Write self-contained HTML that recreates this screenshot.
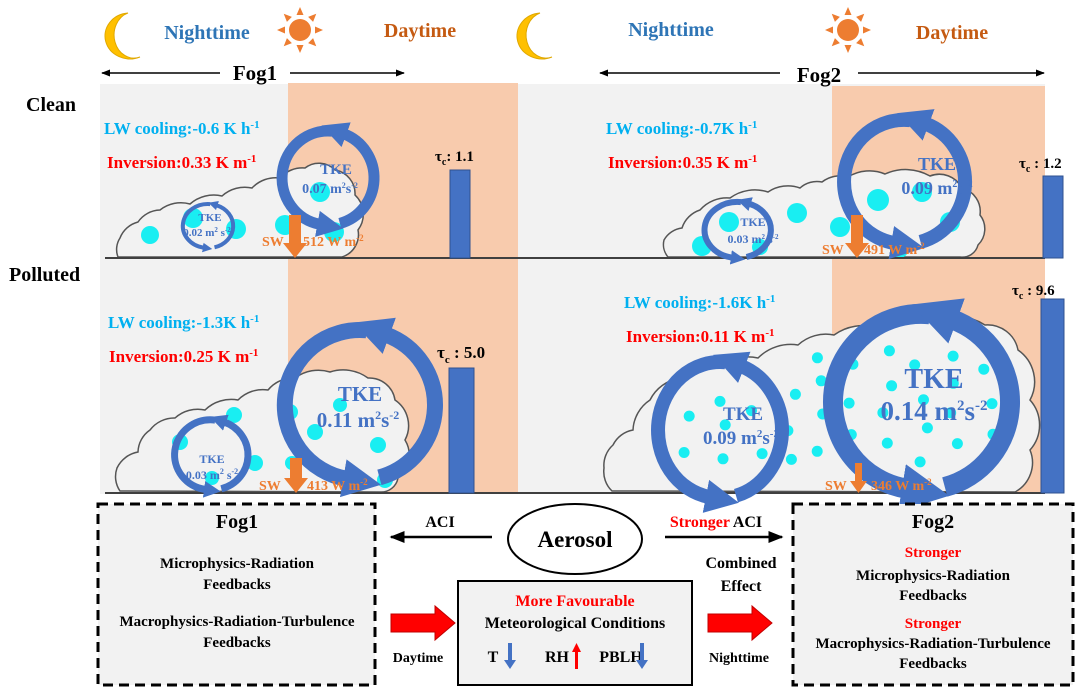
<!DOCTYPE html>
<html><head><meta charset="utf-8"><style>
html,body{margin:0;padding:0;background:#fff;width:1080px;height:694px;overflow:hidden}
svg{display:block}
text{font-family:"Liberation Serif",serif;font-weight:bold}
</style></head><body>
<svg id="s" width="1080" height="694" viewBox="0 0 1080 694" xmlns="http://www.w3.org/2000/svg">
<defs>
<marker id="ah" viewBox="0 0 10 10" markerWidth="2.4" markerHeight="3" refX="1" refY="5" orient="auto"><path d="M0,0 L10,5 L0,10 z" fill="#4472c4"/></marker>
<marker id="bk" viewBox="0 0 10 10" markerWidth="6" markerHeight="6" refX="9" refY="5" orient="auto"><path d="M0,1 L10,5 L0,9 z" fill="#000"/></marker>
</defs>
<rect x="100" y="84" width="945" height="410" fill="#f2f2f2"/>
<rect x="288" y="83" width="230" height="411" fill="#f8cbad"/>
<rect x="832" y="86" width="213" height="408" fill="#f8cbad"/>
<g id="clouds"></g>
<g id="dots"></g>
<line x1="105" y1="258" x2="1045" y2="258" stroke="#404040" stroke-width="2"/>
<line x1="105" y1="493" x2="1045" y2="493" stroke="#404040" stroke-width="2"/>
<rect x="450" y="170" width="20" height="88" fill="#4472c4" stroke="#2f528f"/>
<rect x="449" y="368" width="25" height="125" fill="#4472c4" stroke="#2f528f"/>
<rect x="1043" y="176" width="20" height="82" fill="#4472c4" stroke="#2f528f"/>
<rect x="1041" y="299" width="23" height="194" fill="#4472c4" stroke="#2f528f"/>
<g id="arrows"></g>
<g fill="#ed7d31">
<path d="M289,215 h12 v28 h6 l-12,15 l-12,-15 h6z"/>
<path d="M851,215 h12 v28 h6 l-12,15 l-12,-15 h6z"/>
<path d="M290,458 h12 v20 h6 l-12,15 l-12,-15 h6z"/>
<path d="M855,463 h7 v18 h5 l-8.5,12 l-8.5,-12 h5z"/>
</g>
<path d="M128,13 A25,23 0 1 0 140,57 A19,22 0 0 1 128,13z" fill="#ffc000" stroke="#e0a800"/>
<path d="M540,13 A25,23 0 1 0 552,57 A19,22 0 0 1 540,13z" fill="#ffc000" stroke="#e0a800"/>
<g id="suns"></g>
<g font-size="20" text-anchor="middle">
<text x="207" y="39" fill="#2e75b6">Nighttime</text>
<text x="420" y="37" fill="#c55a11">Daytime</text>
<text x="671" y="36" fill="#2e75b6">Nighttime</text>
<text x="952" y="39" fill="#c55a11">Daytime</text>
</g>
<line x1="102" y1="73" x2="220" y2="73" stroke="#000" stroke-width="1.5" marker-end="url(#bk)" transform="rotate(180 161 73)"/>
<line x1="290" y1="73" x2="404" y2="73" stroke="#000" stroke-width="1.5" marker-end="url(#bk)"/>
<text x="255" y="80" font-size="21" text-anchor="middle">Fog1</text>
<line x1="600" y1="73" x2="780" y2="73" stroke="#000" stroke-width="1.5" marker-end="url(#bk)" transform="rotate(180 690 73)"/>
<line x1="858" y1="73" x2="1044" y2="73" stroke="#000" stroke-width="1.5" marker-end="url(#bk)"/>
<text x="819" y="82" font-size="21" text-anchor="middle">Fog2</text>
<text x="26" y="111" font-size="20">Clean</text>
<text x="9" y="281" font-size="20">Polluted</text>
<g font-size="17">
<text x="104" y="134" fill="#00b0f0">LW cooling:-0.6 K h<tspan font-size="11" dy="-6">-1</tspan></text>
<text x="107" y="168" fill="#ff0000">Inversion:0.33  K m<tspan font-size="11" dy="-6">-1</tspan></text>
<text x="108" y="328" fill="#00b0f0">LW cooling:-1.3K h<tspan font-size="11" dy="-6">-1</tspan></text>
<text x="109" y="362" fill="#ff0000">Inversion:0.25  K m<tspan font-size="11" dy="-6">-1</tspan></text>
<text x="606" y="134" fill="#00b0f0">LW cooling:-0.7K h<tspan font-size="11" dy="-6">-1</tspan></text>
<text x="608" y="168" fill="#ff0000">Inversion:0.35  K m<tspan font-size="11" dy="-6">-1</tspan></text>
<text x="624" y="308" fill="#00b0f0">LW cooling:-1.6K h<tspan font-size="11" dy="-6">-1</tspan></text>
<text x="626" y="342" fill="#ff0000">Inversion:0.11  K m<tspan font-size="11" dy="-6">-1</tspan></text>
</g>
<g font-size="15">
<text x="435" y="161">τ<tspan font-size="10" dy="4">c</tspan><tspan dy="-4">: 1.1</tspan></text>
<text x="437" y="358" font-size="17">τ<tspan font-size="11" dy="5">c</tspan><tspan dy="-5"> : 5.0</tspan></text>
<text x="1019" y="168">τ<tspan font-size="10" dy="4">c</tspan><tspan dy="-4"> : 1.2</tspan></text>
<text x="1012" y="295">τ<tspan font-size="10" dy="4">c</tspan><tspan dy="-4"> : 9.6</tspan></text>
</g>
<g fill="#ed7d31" font-size="14">
<text x="262" y="246">SW</text><text x="303" y="246">512 W m<tspan font-size="9" dy="-5">-2</tspan></text>
<text x="822" y="254">SW</text><text x="864" y="254">491 W m<tspan font-size="9" dy="-5">-2</tspan></text>
<text x="259" y="490">SW</text><text x="307" y="490">413 W m<tspan font-size="9" dy="-5">-2</tspan></text>
<text x="825" y="490">SW</text><text x="871" y="490">346 W m<tspan font-size="9" dy="-5">-2</tspan></text>
</g>
<g fill="#4472c4" text-anchor="middle">
<text x="336" y="174" font-size="15">TKE</text>
<text x="330" y="193" font-size="14">0.07 m<tspan font-size="8" dy="-5">2</tspan><tspan dy="5">s</tspan><tspan font-size="8" dy="-5">-2</tspan></text>
<text x="210" y="221" font-size="11">TKE</text>
<text x="207" y="236" font-size="11">0.02 m<tspan font-size="7" dy="-4">2</tspan><tspan dy="4"> s</tspan><tspan font-size="7" dy="-4">-2</tspan></text>
<text x="360" y="401" font-size="21">TKE</text>
<text x="358" y="427" font-size="21">0.11 m<tspan font-size="12" dy="-8">2</tspan><tspan dy="8">s</tspan><tspan font-size="12" dy="-8">-2</tspan></text>
<text x="212" y="463" font-size="12">TKE</text>
<text x="212" y="479" font-size="12">0.03 m<tspan font-size="8" dy="-5">2</tspan><tspan dy="5"> s</tspan><tspan font-size="8" dy="-5">-2</tspan></text>
<text x="937" y="170" font-size="18">TKE</text>
<text x="937" y="194" font-size="18">0.09 m<tspan font-size="10" dy="-7">2</tspan><tspan dy="7">s</tspan><tspan font-size="10" dy="-7">-2</tspan></text>
<text x="753" y="226" font-size="12">TKE</text>
<text x="753" y="243" font-size="12">0.03 m<tspan font-size="7" dy="-4">2</tspan><tspan dy="4"> s</tspan><tspan font-size="7" dy="-4">-2</tspan></text>
<text x="934" y="388" font-size="28">TKE</text>
<text x="934" y="420" font-size="27">0.14 m<tspan font-size="15" dy="-10">2</tspan><tspan dy="10">s</tspan><tspan font-size="15" dy="-10">-2</tspan></text>
<text x="743" y="420" font-size="19">TKE</text>
<text x="741" y="444" font-size="19">0.09 m<tspan font-size="11" dy="-7">2</tspan><tspan dy="7">s</tspan><tspan font-size="11" dy="-7">-2</tspan></text>
</g>
<rect x="98" y="504" width="277" height="181" fill="#f2f2f2" stroke="#000" stroke-width="3" stroke-dasharray="10,6"/>
<rect x="793" y="504" width="280" height="181" fill="#f2f2f2" stroke="#000" stroke-width="3" stroke-dasharray="10,6"/>
<ellipse cx="575" cy="539" rx="67" ry="35" fill="#fff" stroke="#000" stroke-width="2"/>
<text x="575" y="547" font-size="23" text-anchor="middle">Aerosol</text>
<line x1="492" y1="537" x2="391" y2="537" stroke="#000" stroke-width="2.5" marker-end="url(#bk)" />
<line x1="665" y1="537" x2="782" y2="537" stroke="#000" stroke-width="2.5" marker-end="url(#bk)"/>
<text x="440" y="527" font-size="16" text-anchor="middle">ACI</text>
<text x="716" y="527" font-size="16" text-anchor="middle"><tspan fill="#ff0000">Stronger</tspan> ACI</text>
<text x="741" y="568" font-size="16" text-anchor="middle">Combined</text>
<text x="741" y="591" font-size="16" text-anchor="middle">Effect</text>
<rect x="458" y="581" width="234" height="104" fill="#f2f2f2" stroke="#000" stroke-width="2"/>
<path d="M391,614 h44 v-8 l20,17 l-20,17 v-8 h-44z" fill="#ff0000" stroke="#c00000"/>
<path d="M708,614 h44 v-8 l20,17 l-20,17 v-8 h-44z" fill="#ff0000" stroke="#c00000"/>
<text x="418" y="662" font-size="14" text-anchor="middle">Daytime</text>
<text x="739" y="662" font-size="14" text-anchor="middle">Nighttime</text>
<g text-anchor="middle" font-size="16">
<text x="575" y="606" fill="#ff0000">More Favourable</text>
<text x="575" y="628">Meteorological Conditions</text>
<text x="493" y="662">T</text>
<text x="557" y="662">RH</text>
<text x="621" y="662">PBLH</text>
</g>
<path d="M508,643 h4 v17 h4 l-6,9 l-6,-9 h4z" fill="#4472c4"/>
<path d="M575,669 h3 v-17 h3 l-4.5,-9 l-4.5,9 h3z" fill="#ff0000"/>
<path d="M640,643 h4 v17 h4 l-6,9 l-6,-9 h4z" fill="#4472c4"/>
<g text-anchor="middle" font-size="15">
<text x="237" y="528" font-size="20">Fog1</text>
<text x="237" y="568">Microphysics-Radiation</text>
<text x="237" y="589">Feedbacks</text>
<text x="237" y="626">Macrophysics-Radiation-Turbulence</text>
<text x="237" y="647">Feedbacks</text>
<text x="933" y="528" font-size="20">Fog2</text>
<text x="933" y="557" fill="#ff0000">Stronger</text>
<text x="933" y="580">Microphysics-Radiation</text>
<text x="933" y="600">Feedbacks</text>
<text x="933" y="628" fill="#ff0000">Stronger</text>
<text x="933" y="648">Macrophysics-Radiation-Turbulence</text>
<text x="933" y="668">Feedbacks</text>
</g>
</svg>
<script>
var NS="http://www.w3.org/2000/svg";
function el(p,t,a){var e=document.createElementNS(NS,t);for(var k in a)e.setAttribute(k,a[k]);document.getElementById(p).appendChild(e);return e;}
function cloud(pts){var d="M"+pts[0][0]+","+pts[0][1];for(var i=1;i<pts.length;i++){var a=pts[i-1],b=pts[i];var L=Math.hypot(b[0]-a[0],b[1]-a[1]);var r=L*(i>=pts.length-4?0.75:1.1);d+=" A"+r.toFixed(1)+","+r.toFixed(1)+" 0 0 1 "+b[0]+","+b[1];}d+=" Z";el("clouds","path",{d:d,fill:"#f2f2f2",stroke:"#555","stroke-width":1.5});}
cloud([[118,257],[120,238],[138,222],[160,210],[190,204],[222,196],[252,188],[280,178],[305,168],[335,170],[355,195],[358,230],[342,257]]);
cloud([[120,491],[117,468],[138,452],[150,430],[175,418],[205,410],[238,400],[268,390],[295,378],[330,372],[368,378],[395,400],[405,440],[398,478],[380,492]]);
cloud([[668,257],[664,240],[682,228],[700,210],[730,198],[768,192],[800,188],[822,182],[848,177],[885,174],[930,176],[962,188],[980,215],[978,245],[960,257]]);
cloud([[612,491],[604,468],[613,445],[633,430],[650,400],[680,378],[718,368],[758,358],[798,345],[834,335],[878,328],[930,320],[985,325],[1018,350],[1030,400],[1030,450],[1015,492]]);
var dots=[[150,235,9],[193,218,10],[236,229,10],[285,225,10],[320,192,10],[334,232,10],[180,442,8],[234,415,8],[255,463,8],[290,412,8],[315,432,8],[340,405,7],[378,445,8],[385,480,8],[292,463,7],[212,478,7],[702,246,10],[729,222,10],[797,213,10],[840,227,10],[878,200,11],[922,192,10],[950,222,10],[900,250,8],[760,247,8]];
dots.forEach(function(d){el("dots","circle",{cx:d[0],cy:d[1],r:d[2],fill:"#19eef2"});});
var s=7;for(var x=690;x<=990;x+=33){for(var y=352;y<=475;y+=32){s=(s*9301+49297)%233280;var jx=(s/233280-0.5)*14;s=(s*9301+49297)%233280;var jy=(s/233280-0.5)*12;var cx=x+jx,cy=y+jy+((x/33|0)%2)*14;if(cy>478||cy<340)continue;if(cx<800&&cy<385)continue;el("dots","circle",{cx:cx.toFixed(1),cy:cy.toFixed(1),r:5.5,fill:"#19eef2"});}}
function pt(cx,cy,rx,ry,t){t=t*Math.PI/180;return (cx+rx*Math.cos(t)).toFixed(1)+","+(cy+ry*Math.sin(t)).toFixed(1);}
function ring(cx,cy,rx,ry,w){
 var c1="#4472c4";
 el("arrows","path",{d:"M"+pt(cx,cy,rx,ry,-85)+" A"+rx+","+ry+" 0 0 0 "+pt(cx,cy,rx,ry,100),fill:"none",stroke:c1,"stroke-width":w,"marker-end":"url(#ah)"});
 el("arrows","path",{d:"M"+pt(cx,cy,rx,ry,75)+" A"+rx+","+ry+" 0 0 0 "+pt(cx,cy,rx,ry,-70),fill:"none",stroke:c1,"stroke-width":w,"marker-end":"url(#ah)"});
}
ring(328,178,46,47,11);
ring(208,226,25,22,4);
ring(360,405,75,75,16);
ring(212,455,36,35,7);
ring(905,182,60,62,14);
ring(738,230,33,28,6);
ring(922,402,88,88,20);
ring(720,430,62,68,14);
function sun(cx,cy){el("suns","circle",{cx:cx,cy:cy,r:11,fill:"#ed7d31"});for(var i=0;i<8;i++){var a=i*Math.PI/4;var x1=cx+15*Math.cos(a),y1=cy+15*Math.sin(a),x2=cx+23*Math.cos(a),y2=cy+23*Math.sin(a);var px=-Math.sin(a)*3.5,py=Math.cos(a)*3.5;el("suns","path",{d:"M"+(x1+px)+","+(y1+py)+" L"+x2+","+y2+" L"+(x1-px)+","+(y1-py)+"z",fill:"#ed7d31"});}}
sun(300,30);sun(848,30);
</script>
</body></html>
